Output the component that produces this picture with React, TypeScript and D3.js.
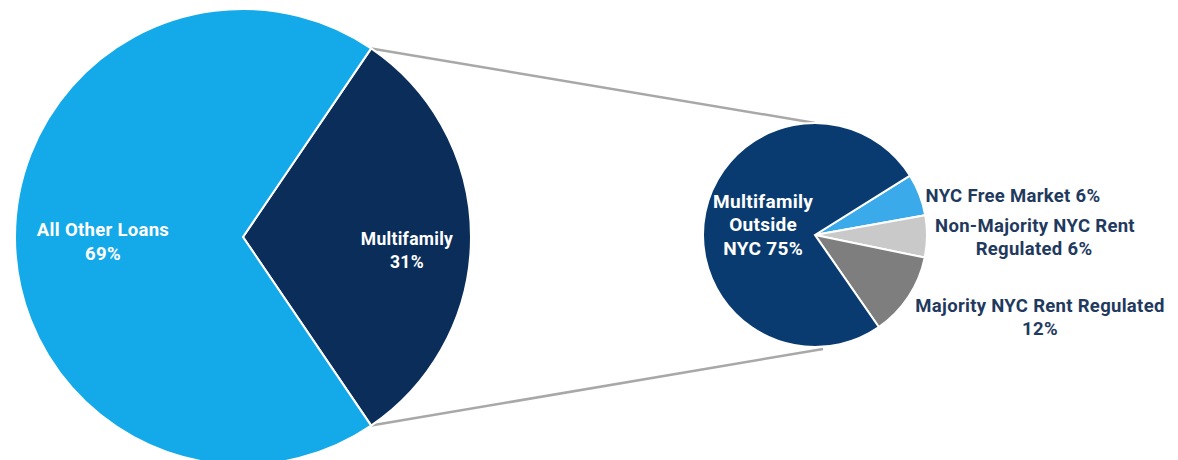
import React from "react";
import * as d3 from "d3";

const bigCategories = ["Multifamily", "All Other Loans"];
const bigValues = [31, 69];
const bigColors = ["#0A2D5A", "#14A9E9"];

const smallCategories = [
  "NYC Free Market",
  "Non-Majority NYC Rent Regulated",
  "Majority NYC Rent Regulated",
  "Multifamily Outside NYC",
];
const smallValues = [6, 6, 12, 75];
const smallColors = ["#3AAAEB", "#C9C9C9", "#7E7E7E", "#0A3B70"];

const W = 1178;
const H = 460;
const FONT = "Roboto, 'Liberation Sans', Arial, sans-serif";
const deg = Math.PI / 180;

export default function App() {
  const bigC = { x: 243, y: 237 };
  const bigR = 228;
  const smallC = { x: 815, y: 235 };
  const smallR = 112;

  const bigStart = (90 - (bigValues[0] / 100) * 360 / 2) * deg;
  const bigPie = d3
    .pie<number>()
    .sort(null)
    .value((d) => d)
    .startAngle(bigStart)
    .endAngle(bigStart + 2 * Math.PI);
  const bigArcs = bigPie(bigValues);
  const bigArc = d3.arc<d3.PieArcDatum<number>>().innerRadius(0).outerRadius(bigR);

  const smallStart = 58 * deg;
  const smallPie = d3
    .pie<number>()
    .sort(null)
    .value((d) => d)
    .startAngle(smallStart)
    .endAngle(smallStart + 2 * Math.PI);
  const smallArcs = smallPie(smallValues);
  const smallArc = d3.arc<d3.PieArcDatum<number>>().innerRadius(0).outerRadius(smallR);

  const pt = (c: { x: number; y: number }, r: number, a: number) => ({
    x: c.x + r * Math.sin(a),
    y: c.y - r * Math.cos(a),
  });

  const mf = bigArcs[0];
  const p1 = pt(bigC, bigR, mf.startAngle);
  const p2 = pt(bigC, bigR, mf.endAngle);
  const q1 = { x: smallC.x, y: smallC.y - smallR };
  const q2 = { x: smallC.x + 8, y: smallC.y + smallR + 2 };

  const labelArc = (r: number) =>
    d3.arc<d3.PieArcDatum<number>>().innerRadius(r).outerRadius(r);
  const mfPos = labelArc(164).centroid(bigArcs[0]);
  const otherPos = labelArc(140).centroid(bigArcs[1]);
  const outsidePos = labelArc(55).centroid(smallArcs[3]);

  const white = { fill: "#FFFFFF", fontFamily: FONT, fontWeight: 700, letterSpacing: 0.3 } as const;
  const navy = { fill: "#1F3A5E", fontFamily: FONT, fontWeight: 700, letterSpacing: 0.3 } as const;

  return (
    <svg
      width={W}
      height={H}
      style={{ position: "fixed", left: 0, top: 0, background: "#fff" }}
    >
      <line x1={p1.x} y1={p1.y} x2={q1.x} y2={q1.y} stroke="#A8A8A8" strokeWidth={2.5} />
      <line x1={p2.x} y1={p2.y} x2={q2.x} y2={q2.y} stroke="#A8A8A8" strokeWidth={2.5} />

      <g transform={`translate(${bigC.x},${bigC.y})`}>
        {bigArcs.map((a, i) => (
          <path key={bigCategories[i]} d={bigArc(a) || ""} fill={bigColors[i]} stroke="#fff" strokeWidth={2} />
        ))}
        <text textAnchor="middle" fontSize={18.5} {...white}>
          <tspan x={otherPos[0]} y={otherPos[1] - 1}>{bigCategories[1]}</tspan>
          <tspan x={otherPos[0]} dy={24}>{bigValues[1]}%</tspan>
        </text>
        <text textAnchor="middle" fontSize={17.5} {...white}>
          <tspan x={mfPos[0]} y={mfPos[1] + 8}>{bigCategories[0]}</tspan>
          <tspan x={mfPos[0]} dy={23}>{bigValues[0]}%</tspan>
        </text>
      </g>

      <g transform={`translate(${smallC.x},${smallC.y})`}>
        {smallArcs.map((a, i) => (
          <path key={smallCategories[i]} d={smallArc(a) || ""} fill={smallColors[i]} stroke="#fff" strokeWidth={2} />
        ))}
        <text textAnchor="middle" fontSize={19} {...white}>
          <tspan x={outsidePos[0] + 2} y={outsidePos[1] - 16}>Multifamily</tspan>
          <tspan x={outsidePos[0] + 2} dy={23.5}>Outside</tspan>
          <tspan x={outsidePos[0] + 2} dy={23.5}>NYC {smallValues[3]}%</tspan>
        </text>
      </g>

      <text textAnchor="middle" fontSize={18.5} {...navy}>
        <tspan x={1013} y={202}>{smallCategories[0]} {smallValues[0]}%</tspan>
      </text>
      <text textAnchor="middle" fontSize={18.5} {...navy}>
        <tspan x={1035} y={232}>Non-Majority NYC Rent</tspan>
        <tspan x={1034} y={255}>Regulated {smallValues[1]}%</tspan>
      </text>
      <text textAnchor="middle" fontSize={18.5} {...navy}>
        <tspan x={1040} y={312}>{smallCategories[2]}</tspan>
        <tspan x={1040} y={335}>{smallValues[2]}%</tspan>
      </text>
    </svg>
  );
}
